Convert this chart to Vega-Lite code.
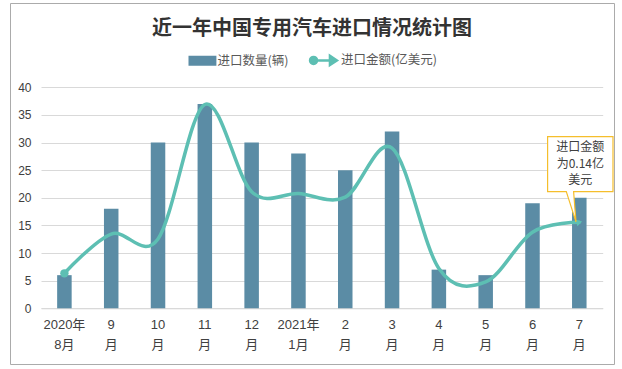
{
  "$schema": "https://vega.github.io/schema/vega-lite/v6.json",
  "width": 604,
  "height": 361,
  "autosize": {"type": "none"},
  "padding": {"left": 10, "top": 3, "right": 8, "bottom": 5},
  "background": "white",
  "title": {
    "text": "近一年中国专用汽车进口情况统计图",
    "font": "Noto Sans CJK SC",
    "fontSize": 20,
    "fontWeight": "bold",
    "color": "#333333",
    "anchor": "middle",
    "frame": "group",
    "baseline": "middle",
    "offset": -46
  },
  "data": {
    "values": [
      {"month": "2020年8月", "count": 6, "amount": 0.057},
      {"month": "9月", "count": 18, "amount": 0.121},
      {"month": "10月", "count": 30, "amount": 0.113},
      {"month": "11月", "count": 37, "amount": 0.332},
      {"month": "12月", "count": 30, "amount": 0.19},
      {"month": "2021年1月", "count": 28, "amount": 0.187},
      {"month": "2月", "count": 25, "amount": 0.181},
      {"month": "3月", "count": 32, "amount": 0.261},
      {"month": "4月", "count": 7, "amount": 0.065},
      {"month": "5月", "count": 6, "amount": 0.043},
      {"month": "6月", "count": 19, "amount": 0.124},
      {"month": "7月", "count": 20, "amount": 0.14, "note": "进口金额\n为0.14亿\n美元"}
    ]
  },
  "encoding": {
    "x": {
      "field": "month",
      "type": "nominal",
      "sort": null,
      "scale": {"range": [31, 592.7], "paddingInner": 0.69, "paddingOuter": 0.345},
      "axis": {
        "title": null,
        "orient": "bottom",
        "offset": -55.7,
        "labelAngle": 0,
        "labelExpr": "datum.label == '2020年8月' ? ['2020年', '8月'] : datum.label == '2021年1月' ? ['2021年', '1月'] : [replace(datum.label, '月', ''), '月']",
        "labelLineHeight": 20,
        "labelPadding": 10,
        "labelFont": "Liberation Sans, Noto Sans CJK SC",
        "labelFontSize": 13,
        "labelColor": "#404040",
        "ticks": false,
        "domain": true,
        "domainColor": "#D9D9D9",
        "domainWidth": 1,
        "grid": false
      }
    }
  },
  "layer": [
    {
      "mark": {"type": "bar"},
      "encoding": {
        "y": {
          "field": "count",
          "type": "quantitative",
          "scale": {"domain": [0, 40], "range": [305.3, 84.3], "nice": false, "zero": true},
          "axis": {
            "title": null,
            "offset": -31,
            "values": [0, 5, 10, 15, 20, 25, 30, 35, 40],
            "domain": false,
            "ticks": false,
            "grid": true,
            "gridColor": "#D9D9D9",
            "gridWidth": 1,
            "labelPadding": 10,
            "labelFont": "Liberation Sans, Noto Sans CJK SC",
            "labelFontSize": 12,
            "labelColor": "#404040"
          }
        },
        "color": {
          "datum": "进口数量(辆)",
          "type": "nominal",
          "scale": {"domain": ["进口数量(辆)", "进口金额(亿美元)"], "range": ["#5B8CA5", "#5DBFB3"]},
          "legend": {
            "orient": "none",
            "legendX": 186.2,
            "legendY": 51,
            "direction": "horizontal",
            "title": null,
            "padding": 0,
            "symbolSize": 4,
            "labelOffset": 8.7,
            "columnPadding": 15.5,
            "labelFont": "Noto Sans CJK SC",
            "labelFontSize": 12.5,
            "labelColor": "#595959",
            "encode": {
              "symbols": {
                "update": {
                  "shape": {"signal": "datum.value == '进口数量(辆)' ? 'M-12.7,-3.8H12.7V3.8H-12.7Z' : 'M-15.9,0A3.5,3.5 0 1,0 -8.9,0A3.5,3.5 0 1,0 -15.9,0ZM-9,0H5M4,-4.5L10.9,0L4,4.5Z'"},
                  "fill": {"signal": "datum.value == '进口数量(辆)' ? '#5B8CA5' : '#5DBFB3'"},
                  "stroke": {"signal": "datum.value == '进口数量(辆)' ? 'transparent' : '#5DBFB3'"},
                  "strokeWidth": {"value": 2.5},
                  "opacity": {"value": 1},
                  "fillOpacity": {"value": 1},
                  "strokeOpacity": {"value": 1},
                  "size": {"value": 4}
                }
              }
            }
          }
        }
      }
    },
    {
      "layer": [
        {
          "mark": {"type": "line", "interpolate": "cardinal", "tension": 0, "strokeWidth": 3.5, "strokeCap": "round"},
          "encoding": {
            "y": {"field": "amount", "type": "quantitative", "scale": {"domain": [0, 0.36], "range": [305.3, 84.3], "nice": false}, "axis": null},
            "color": {"datum": "进口金额(亿美元)", "type": "nominal"}
          }
        },
        {
          "transform": [{"filter": "datum.month == '2020年8月'"}],
          "mark": {"type": "point", "filled": true, "shape": "circle", "size": 70, "color": "#5DBFB3", "opacity": 1},
          "encoding": {"y": {"field": "amount", "type": "quantitative"}}
        },
        {
          "transform": [{"filter": "datum.month == '7月'"}],
          "mark": {"type": "point", "filled": true, "shape": "triangle-right", "size": 45, "angle": -15, "color": "#5DBFB3", "opacity": 1},
          "encoding": {"y": {"field": "amount", "type": "quantitative"}}
        },
        {
          "transform": [{"filter": "datum.month == '7月'"}],
          "mark": {
            "type": "point",
            "filled": false,
            "shape": "M-31.7,-85.7H33.7V-30.7H-5.7L-3.3,-0.5L-13,-30.7H-31.7Z",
            "size": 4,
            "fill": "white",
            "fillOpacity": 1,
            "stroke": "#F5BE2C",
            "strokeWidth": 1.2,
            "opacity": 1
          },
          "encoding": {"y": {"field": "amount", "type": "quantitative"}}
        },
        {
          "transform": [{"filter": "datum.month == '7月'"}],
          "mark": {
            "type": "text",
            "align": "center",
            "baseline": "middle",
            "dx": 1,
            "dy": -75,
            "lineBreak": "\n",
            "lineHeight": 16.5,
            "font": "Noto Sans CJK SC",
            "fontSize": 12,
            "color": "#404040"
          },
          "encoding": {
            "y": {"field": "amount", "type": "quantitative"},
            "text": {"field": "note"}
          }
        }
      ]
    }
  ],
  "resolve": {"scale": {"y": "independent"}},
  "config": {
    "view": {"stroke": "#ABABAB", "strokeWidth": 1},
    "font": "Noto Sans CJK SC"
  }
}
